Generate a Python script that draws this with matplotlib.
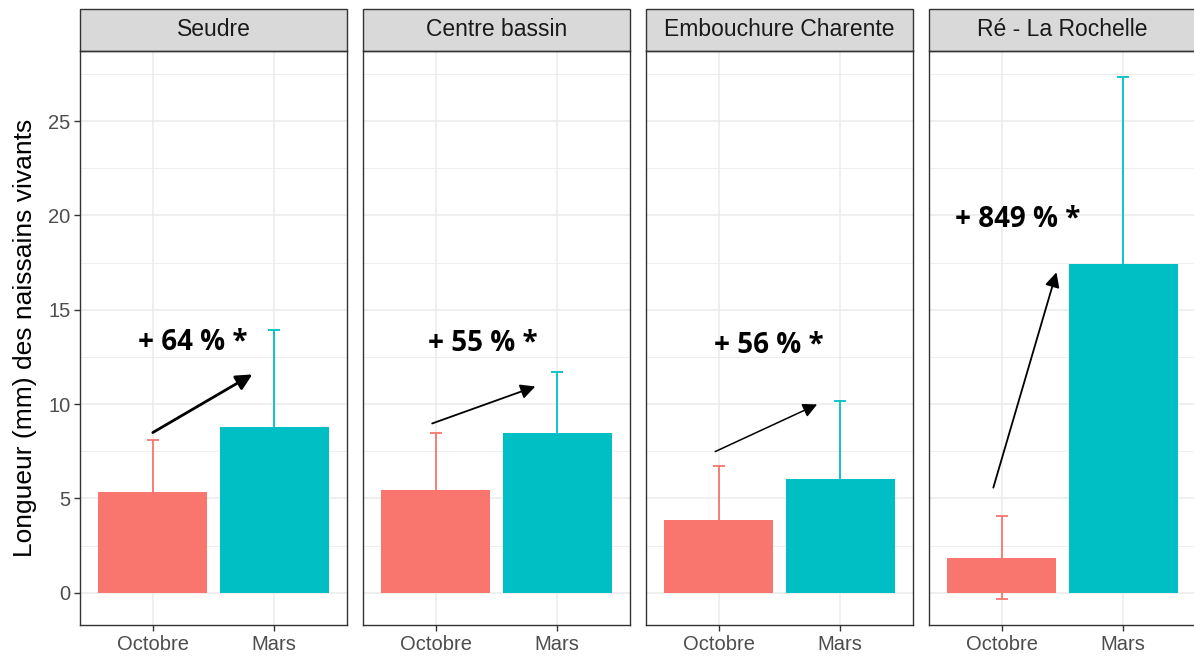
import numpy as np
import matplotlib
matplotlib.use('Agg')
import matplotlib.pyplot as plt
from matplotlib.patches import Rectangle

plt.rcParams['font.family'] = ['Liberation Sans', 'DejaVu Sans']

# data
sites = ['Seudre', 'Centre bassin', 'Embouchure Charente', 'Ré - La Rochelle']
months = ['Octobre', 'Mars']
mean_oct = [5.36, 5.47, 3.87, 1.86]
mean_mar = [8.76, 8.44, 6.05, 17.42]
sd_oct = [2.71, 2.97, 2.87, 2.20]
sd_mar = [5.14, 3.24, 4.09, 9.92]
labels = ['+ 64 % *', '+ 55 % *', '+ 56 % *', '+ 849 % *']
# arrow start (x, y), arrow end (x, y), label position (x, y)
arrow_start = [(1.00, 8.49), (0.97, 8.97), (0.97, 7.48), (0.93, 5.57)]
arrow_end = [(1.82, 11.57), (1.82, 10.93), (1.81, 9.98), (1.45, 16.98)]
label_pos = [(1.33, 13.25), (1.39, 13.2), (1.41, 13.1), (1.13, 19.8)]
arrow_lw = [2.0, 1.3, 1.1, 1.3]

colors = ['#F8766D', '#00BFC4']

W, H = 1194, 657
fig = plt.figure(figsize=(W / 100, H / 100), dpi=100)

panel_left = [80, 363, 646, 929]
panel_w = 267
top_px, bottom_px, strip_h = 51, 625, 42

ymin, ymax = -1.71, 28.71
axes = []
for i, site in enumerate(sites):
    ax = fig.add_axes([panel_left[i] / W, 1 - bottom_px / H,
                       panel_w / W, (bottom_px - top_px) / H])
    axes.append(ax)
    ax.set_xlim(0.4, 2.6)
    ax.set_ylim(ymin, ymax)
    ax.set_axisbelow(True)

    # grid
    for y in np.arange(0, 26, 5):
        ax.axhline(y, color='#EBEBEB', lw=1.1, zorder=0)
    for y in np.arange(2.5, 28, 5):
        ax.axhline(y, color='#EBEBEB', lw=0.6, zorder=0)
    for x in [1, 2]:
        ax.axvline(x, color='#EBEBEB', lw=1.1, zorder=0)

    xs = [1, 2]
    means = [mean_oct[i], mean_mar[i]]
    sds = [sd_oct[i], sd_mar[i]]
    for x, m, s, c in zip(xs, means, sds, colors):
        ax.errorbar(x, m, yerr=s, fmt='none', ecolor=c, elinewidth=1.3,
                    capsize=4, capthick=1.3, zorder=1)
        ax.bar(x, m, width=0.9, color=c, zorder=2)

    ax.annotate('', xy=arrow_end[i], xytext=arrow_start[i],
                arrowprops=dict(arrowstyle='-|>', color='black', lw=arrow_lw[i],
                                mutation_scale=18 + 3 * arrow_lw[i],
                                shrinkA=0, shrinkB=0), zorder=3)
    ax.text(label_pos[i][0], label_pos[i][1], labels[i], ha='center', va='center',
            fontsize=20, fontweight='bold', family=['Open Sans', 'DejaVu Sans'],
            color='black', zorder=4)

    ax.set_xticks(xs)
    ax.set_xticklabels(months, fontsize=14.5, color='#4D4D4D')
    ax.set_yticks(np.arange(0, 26, 5))
    if i == 0:
        ax.set_yticklabels([str(v) for v in range(0, 26, 5)], fontsize=14.5, color='#4D4D4D')
        ax.set_ylabel('Longueur (mm) des naissains vivants', fontsize=19, labelpad=8)
    else:
        ax.tick_params(axis='y', left=False, labelleft=False)
    ax.tick_params(axis='both', length=4, width=1, color='#333333', pad=3)

    for sp in ax.spines.values():
        sp.set_color('#333333')
        sp.set_linewidth(1.0)

    # facet strip
    strip = Rectangle((0, 1), 1, strip_h / (bottom_px - top_px), transform=ax.transAxes,
                      facecolor='#D9D9D9', edgecolor='#333333', lw=1.0, clip_on=False)
    ax.add_patch(strip)
    ax.text(0.5, 1 + strip_h / 2 / (bottom_px - top_px), site, transform=ax.transAxes,
            ha='center', va='center', fontsize=16.5, color='#1A1A1A')

fig.savefig('out.png', dpi=100)
